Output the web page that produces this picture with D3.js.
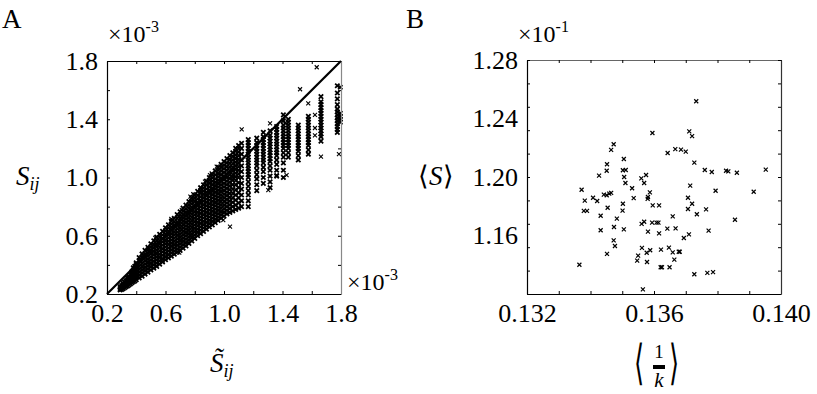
<!DOCTYPE html>
<html>
<head>
<meta charset="utf-8">
<script src="https://cdn.jsdelivr.net/npm/d3@7"></script>
<style>
  body { margin: 0; background: #fff; }
  svg { display: block; }
</style>
</head>
<body>
<svg id="chart" width="817" height="394"></svg>
<script>
// Panel A: S_ij against its estimate, both in units of 1e-3.
// The dense band.
const colX = [
  0.29, 0.30, 0.31, 0.32, 0.33, 0.34, 0.35, 0.36, 0.37, 0.38, 0.39, 0.40,
  0.42, 0.44, 0.46, 0.48, 0.50, 0.52, 0.54, 0.56, 0.58, 0.60, 0.62, 0.64,
  0.66, 0.68, 0.70, 0.72, 0.74, 0.76, 0.78, 0.80, 0.82, 0.84, 0.86, 0.88,
  0.90, 0.92, 0.94, 0.96, 0.98, 1.00, 1.02, 1.04, 1.06, 1.08, 1.10, 1.12,
  1.166, 1.224, 1.269, 1.315, 1.36, 1.406, 1.44, 1.508, 1.577, 1.663, 1.775, 1.795
];
const colY = [
  [0.228, 0.238, 0.25],
  [0.232, 0.245, 0.258],
  [0.236, 0.25, 0.263, 0.272],
  [0.243, 0.256, 0.27, 0.282],
  [0.25, 0.263, 0.277, 0.29],
  [0.255, 0.27, 0.285, 0.298, 0.31],
  [0.262, 0.277, 0.292, 0.307, 0.32],
  [0.27, 0.285, 0.30, 0.315, 0.33],
  [0.277, 0.292, 0.307, 0.322, 0.338, 0.352],
  [0.284, 0.30, 0.316, 0.332, 0.348, 0.365, 0.38],
  [0.29, 0.306, 0.323, 0.34, 0.357, 0.374, 0.39],
  [0.298, 0.315, 0.332, 0.35, 0.368, 0.386, 0.402, 0.414],
  [0.31, 0.33, 0.35, 0.37, 0.39, 0.41, 0.43, 0.45],
  [0.322, 0.344, 0.366, 0.388, 0.41, 0.432, 0.454, 0.475],
  [0.337, 0.36, 0.383, 0.406, 0.429, 0.452, 0.475, 0.50],
  [0.35, 0.372, 0.394, 0.416, 0.438, 0.46, 0.482, 0.504, 0.52],
  [0.365, 0.388, 0.41, 0.433, 0.455, 0.478, 0.50, 0.523, 0.545],
  [0.378, 0.401, 0.424, 0.447, 0.47, 0.493, 0.516, 0.54, 0.565],
  [0.39, 0.412, 0.434, 0.456, 0.478, 0.50, 0.522, 0.544, 0.566, 0.59],
  [0.405, 0.428, 0.451, 0.474, 0.497, 0.52, 0.543, 0.566, 0.589, 0.61],
  [0.42, 0.443, 0.466, 0.489, 0.512, 0.535, 0.558, 0.581, 0.605, 0.63],
  [0.435, 0.457, 0.479, 0.501, 0.523, 0.545, 0.567, 0.589, 0.611, 0.633, 0.655],
  [0.448, 0.471, 0.494, 0.517, 0.54, 0.562, 0.585, 0.608, 0.631, 0.654, 0.675],
  [0.46, 0.482, 0.504, 0.526, 0.548, 0.57, 0.592, 0.614, 0.636, 0.658, 0.68, 0.70],
  [0.473, 0.495, 0.517, 0.539, 0.561, 0.583, 0.605, 0.627, 0.65, 0.673, 0.696, 0.72],
  [0.487, 0.51, 0.533, 0.556, 0.579, 0.602, 0.625, 0.648, 0.671, 0.694, 0.72, 0.745],
  [0.50, 0.522, 0.544, 0.566, 0.588, 0.61, 0.632, 0.654, 0.676, 0.698, 0.72, 0.743, 0.765],
  [0.515, 0.538, 0.561, 0.584, 0.607, 0.63, 0.653, 0.676, 0.699, 0.722, 0.745, 0.768, 0.79],
  [0.53, 0.553, 0.576, 0.599, 0.622, 0.645, 0.668, 0.691, 0.714, 0.737, 0.76, 0.785, 0.81],
  [0.548, 0.57, 0.592, 0.614, 0.636, 0.658, 0.68, 0.702, 0.724, 0.746, 0.768, 0.79, 0.812, 0.835],
  [0.565, 0.588, 0.611, 0.634, 0.657, 0.68, 0.703, 0.726, 0.749, 0.772, 0.795, 0.818, 0.84, 0.86],
  [0.582, 0.605, 0.628, 0.651, 0.674, 0.697, 0.72, 0.743, 0.766, 0.789, 0.812, 0.835, 0.858, 0.88],
  [0.60, 0.623, 0.646, 0.669, 0.692, 0.715, 0.738, 0.761, 0.784, 0.807, 0.83, 0.853, 0.878, 0.905],
  [0.615, 0.638, 0.661, 0.684, 0.707, 0.73, 0.753, 0.776, 0.799, 0.822, 0.845, 0.868, 0.891, 0.91, 0.93],
  [0.63, 0.653, 0.676, 0.699, 0.722, 0.745, 0.768, 0.791, 0.814, 0.837, 0.86, 0.883, 0.906, 0.928, 0.95],
  [0.645, 0.668, 0.691, 0.714, 0.737, 0.76, 0.783, 0.806, 0.829, 0.852, 0.875, 0.898, 0.921, 0.948, 0.975],
  [0.66, 0.683, 0.706, 0.729, 0.752, 0.775, 0.798, 0.821, 0.844, 0.867, 0.89, 0.913, 0.936, 0.96, 0.98, 1.00],
  [0.675, 0.698, 0.721, 0.744, 0.767, 0.79, 0.813, 0.836, 0.859, 0.882, 0.905, 0.928, 0.951, 0.974, 0.997, 1.02],
  [0.69, 0.713, 0.736, 0.759, 0.782, 0.805, 0.828, 0.851, 0.874, 0.897, 0.92, 0.943, 0.966, 0.99, 1.018, 1.045],
  [0.705, 0.728, 0.751, 0.774, 0.797, 0.82, 0.843, 0.866, 0.889, 0.912, 0.935, 0.958, 0.981, 1.004, 1.027, 1.05, 1.07],
  [0.72, 0.743, 0.766, 0.789, 0.812, 0.835, 0.858, 0.881, 0.904, 0.927, 0.95, 0.973, 0.996, 1.02, 1.045, 1.07, 1.09],
  [0.735, 0.76, 0.785, 0.81, 0.835, 0.86, 0.885, 0.91, 0.935, 0.96, 0.985, 1.01, 1.035, 1.06, 1.085, 1.11],
  [0.75, 0.775, 0.80, 0.825, 0.85, 0.875, 0.90, 0.925, 0.95, 0.975, 1.00, 1.025, 1.05, 1.075, 1.10, 1.13],
  [0.76, 0.786, 0.812, 0.838, 0.864, 0.89, 0.916, 0.942, 0.968, 0.994, 1.02, 1.046, 1.072, 1.098, 1.124, 1.15],
  [0.77, 0.80, 0.83, 0.86, 0.89, 0.92, 0.95, 0.98, 1.00, 1.02, 1.045, 1.07, 1.095, 1.12, 1.145, 1.17],
  [0.78, 0.81, 0.845, 0.88, 0.915, 0.95, 0.98, 1.005, 1.03, 1.055, 1.08, 1.105, 1.13, 1.155, 1.18, 1.20],
  [0.79, 0.825, 0.86, 0.895, 0.93, 0.965, 1.00, 1.025, 1.05, 1.075, 1.10, 1.125, 1.15, 1.175, 1.20, 1.22],
  [0.80, 0.84, 0.88, 0.92, 0.96, 1.00, 1.04, 1.08, 1.12, 1.16, 1.20, 1.235],
  [0.80, 0.84, 0.88, 0.91, 0.94, 0.97, 1.00, 1.02, 1.04, 1.06, 1.08, 1.10, 1.12, 1.14, 1.16, 1.18, 1.20, 1.22, 1.24, 1.26],
  [0.91, 0.95, 0.99, 1.02, 1.05, 1.08, 1.10, 1.12, 1.14, 1.16, 1.18, 1.20, 1.22, 1.24, 1.27],
  [0.96, 1.00, 1.04, 1.07, 1.10, 1.12, 1.14, 1.16, 1.18, 1.20, 1.22, 1.24, 1.26, 1.28, 1.31],
  [0.93, 0.97, 1.01, 1.05, 1.08, 1.11, 1.13, 1.15, 1.17, 1.19, 1.21, 1.23, 1.25, 1.27, 1.29, 1.32],
  [1.01, 1.05, 1.09, 1.12, 1.15, 1.17, 1.19, 1.21, 1.23, 1.25, 1.27, 1.29, 1.31, 1.33, 1.35],
  [1.00, 1.05, 1.10, 1.14, 1.17, 1.20, 1.22, 1.24, 1.26, 1.28, 1.30, 1.32, 1.34, 1.36, 1.39, 1.43],
  [1.14, 1.17, 1.20, 1.22, 1.24, 1.26, 1.28, 1.30, 1.32, 1.34, 1.36, 1.38, 1.40],
  [1.12, 1.15, 1.18, 1.20, 1.22, 1.24, 1.26, 1.28, 1.30, 1.32, 1.34, 1.36],
  [1.16, 1.19, 1.22, 1.24, 1.26, 1.28, 1.30, 1.32, 1.34, 1.36, 1.38, 1.40, 1.42],
  [1.25, 1.28, 1.30, 1.32, 1.34, 1.36, 1.38, 1.40, 1.42, 1.44, 1.46, 1.48, 1.50, 1.52, 1.555],
  [1.31, 1.33, 1.35, 1.37, 1.39, 1.41, 1.43, 1.45, 1.47, 1.50, 1.54, 1.58, 1.63],
  [1.38, 1.40, 1.42, 1.44, 1.62]
];
// stray points away from the band
const strayA = [
  [1.121, 1.331], [1.315, 1.372], [1.634, 1.757], [1.52, 1.606], [1.576, 1.509],
  [1.303, 0.914], [1.36, 1.017], [1.428, 1.017], [1.622, 1.29], [1.622, 1.34],
  [1.622, 1.43], [1.663, 1.143], [1.786, 1.161], [0.694, 0.484], [1.417, 1.372],
  [0.77, 0.868], [0.79, 0.885], [0.95, 1.075], [1.075, 1.134], [0.904, 1.017],
  [0.916, 1.029], [0.87, 0.971], [0.711, 0.777], [1.041, 0.662], [0.995, 0.708],
  [0.79, 0.593], [0.58, 0.425], [0.53, 0.585], [0.64, 0.715]
];
const diagA = [0.2, 1.8];
const ticksA = [0.2, 0.4, 0.6, 0.8, 1.0, 1.2, 1.4, 1.6, 1.8];
const labelsA = [0.2, 0.6, 1.0, 1.4, 1.8];

// Panel B: <S> (x1e-1) against <1/k>
const invK = [
  0.13595, 0.13473, 0.13465, 0.13505, 0.13452, 0.13451, 0.13502, 0.13511, 0.13427, 0.13506,
  0.13575, 0.13560, 0.13510, 0.13569, 0.13531, 0.13372, 0.13587, 0.13465, 0.13459, 0.13442,
  0.13451, 0.13408, 0.13536, 0.13581, 0.13580, 0.13382, 0.13421, 0.13502, 0.13596, 0.13616,
  0.13454, 0.13379, 0.13389, 0.13501, 0.13432, 0.13483, 0.13561, 0.13569, 0.13594, 0.13474,
  0.13505, 0.13432, 0.13581, 0.13616, 0.13473, 0.13477, 0.13562, 0.13452, 0.13550, 0.13577,
  0.13588, 0.13547, 0.13578, 0.13365, 0.13565, 0.13733, 0.13711, 0.13720, 0.13643, 0.13667,
  0.13685, 0.13700, 0.13727, 0.13760, 0.13782, 0.13827, 0.13834, 0.13861, 0.13952, 0.13714,
  0.13794, 0.13914, 0.13707, 0.13720, 0.13707, 0.13764, 0.13735, 0.13659, 0.13855, 0.13608,
  0.13614, 0.13642, 0.13668, 0.13772, 0.13710, 0.13694, 0.13622, 0.13647, 0.13659, 0.13678,
  0.13681, 0.13664, 0.13621, 0.13625, 0.13649, 0.13727, 0.13768, 0.13786
];
const meanS = [
  1.2301, 1.2224, 1.2185, 1.2123, 1.2087, 1.2043, 1.2046, 1.2048, 1.2009, 1.2000,
  1.2014, 1.1991, 1.1959, 1.1959, 1.1923, 1.1913, 1.1895, 1.1891, 1.1886, 1.1879,
  1.1875, 1.1858, 1.1856, 1.1863, 1.1850, 1.1838, 1.1836, 1.1817, 1.1806, 1.1806,
  1.1790, 1.1768, 1.1768, 1.1770, 1.1735, 1.1715, 1.1679, 1.1694, 1.1688, 1.1658,
  1.1642, 1.1636, 1.1626, 1.1615, 1.1567, 1.1528, 1.1515, 1.1474, 1.1462, 1.1482,
  1.1499, 1.1428, 1.1419, 1.1400, 1.1232, 1.2518, 1.2312, 1.2280, 1.2164, 1.2191,
  1.2187, 1.2173, 1.2098, 1.2048, 1.2034, 1.2043, 1.2038, 1.2029, 1.2050, 1.1941,
  1.1906, 1.1899, 1.1858, 1.1817, 1.1781, 1.1779, 1.1745, 1.1731, 1.1708, 1.1688,
  1.1688, 1.1647, 1.1649, 1.1633, 1.1608, 1.1583, 1.1503, 1.1517, 1.1485, 1.1489,
  1.1489, 1.1435, 1.1383, 1.1383, 1.1383, 1.1335, 1.1344, 1.1350
];
const ticksBx = [0.132, 0.133, 0.134, 0.135, 0.136, 0.137, 0.138, 0.139, 0.140];
const labelsBx = [0.132, 0.136, 0.140];
const ticksBy = [1.12, 1.136, 1.152, 1.168, 1.184, 1.20, 1.216, 1.232, 1.248, 1.264, 1.28];
const labelsBy = [1.16, 1.20, 1.24, 1.28];

const SERIF = "Liberation Serif, Times New Roman, serif";
const FONT = 26;
const svg = d3.select("#chart").attr("font-family", SERIF);
const cross = (r) => `M${-r},${-r}L${r},${r}M${-r},${r}L${r},${-r}`;

const xA = d3.scaleLinear().domain([0.2, 1.8]).range([107, 341]);
const yA = d3.scaleLinear().domain([0.2, 1.8]).range([294, 61]);
const xB = d3.scaleLinear().domain([0.132, 0.140]).range([527, 781]);
const yB = d3.scaleLinear().domain([1.12, 1.28]).range([294, 60]);

// box with inward ticks on all four sides, MATLAB style
function drawFrame(x, y, xt, yt, edge) {
  const [x0, x1] = x.range();
  const [y0, y1] = y.range();
  const g = svg.append("g").attr("class", "frame");
  const sides = [
    [d3.axisBottom(x).tickValues(xt), `translate(0,${y0})`, edge.bottom],
    [d3.axisTop(x).tickValues(xt), `translate(0,${y1})`, edge.top],
    [d3.axisLeft(y).tickValues(yt), `translate(${x0},0)`, edge.left],
    [d3.axisRight(y).tickValues(yt), `translate(${x1},0)`, edge.right],
  ];
  sides.forEach(([axis, tr, color]) => {
    const a = g.append("g").attr("transform", tr)
      .call(axis.tickSize(-3).tickSizeOuter(0).tickFormat(""));
    a.select(".domain").attr("stroke", color).attr("stroke-width", 1.2);
    a.selectAll(".tick line").attr("stroke", "#000");
    a.selectAll(".tick text").remove();
  });
}

function drawLabels(x, y, xl, yl, fx, fy) {
  const [x0] = x.range();
  const [y0] = y.range();
  svg.append("g").attr("transform", `translate(0,${y0})`)
    .call(d3.axisBottom(x).tickValues(xl).tickSize(0).tickPadding(10).tickFormat(fx))
    .call((a) => a.select(".domain").remove())
    .attr("font-family", SERIF)
    .attr("font-size", FONT);
  svg.append("g").attr("transform", `translate(${x0},0)`)
    .call(d3.axisLeft(y).tickValues(yl).tickSize(0).tickPadding(9).tickFormat(fy))
    .call((a) => a.select(".domain").remove())
    .attr("font-family", SERIF)
    .attr("font-size", FONT);
}

// ---- panel A ----
const bandA = colX.flatMap((x, i) => colY[i].map((y) => [x, y]));

svg.append("g")
  .selectAll("path")
  .data(bandA)
  .join("path")
  .attr("transform", (d) => `translate(${xA(d[0])},${yA(d[1])})`)
  .attr("d", cross(2.2))
  .attr("fill", "none")
  .attr("stroke", "#000")
  .attr("stroke-width", 1.8);

svg.append("g")
  .selectAll("path")
  .data(strayA)
  .join("path")
  .attr("transform", (d) => `translate(${xA(d[0])},${yA(d[1])})`)
  .attr("d", cross(2))
  .attr("fill", "none")
  .attr("stroke", "#000")
  .attr("stroke-width", 1.1);

svg.append("line")
  .attr("x1", xA(diagA[0])).attr("y1", yA(diagA[0]))
  .attr("x2", xA(diagA[1])).attr("y2", yA(diagA[1]))
  .attr("stroke", "#000")
  .attr("stroke-width", 2.2);

drawFrame(xA, yA, ticksA, ticksA, { bottom: "#000", top: "#000", left: "#000", right: "#888" });
drawLabels(xA, yA, labelsA, labelsA, d3.format(".1f"), d3.format(".1f"));

// ---- panel B ----
svg.append("g")
  .selectAll("path")
  .data(invK.map((x, i) => [x, meanS[i]]))
  .join("path")
  .attr("transform", (d) => `translate(${xB(d[0])},${yB(d[1])})`)
  .attr("d", cross(2))
  .attr("fill", "none")
  .attr("stroke", "#000")
  .attr("stroke-width", 1.2);

drawFrame(xB, yB, ticksBx, ticksBy, { bottom: "#000", top: "#666", left: "#000", right: "#333" });
drawLabels(xB, yB, labelsBx, labelsBy, d3.format(".3f"), d3.format(".2f"));

// ---- titles and axis names ----
const txt = (x, y, size) => svg.append("text")
  .attr("x", x).attr("y", y)
  .attr("font-family", SERIF)
  .attr("font-size", size);

txt(2, 28, 27).text("A");
txt(406, 28, 27).text("B");

function sci(x, y, exp) {
  const t = txt(x, y, 24);
  t.append("tspan").text("×10");
  t.append("tspan").attr("dy", -10).attr("font-size", 16).text(exp);
}
sci(108, 42, "-3");
sci(347, 290, "-3");
sci(518, 42, "-1");

const ylA = txt(16, 185, 27).attr("font-style", "italic");
ylA.append("tspan").text("S");
ylA.append("tspan").attr("dy", 5).attr("font-size", 18).text("ij");

const xlA = txt(210, 372, 27).attr("font-style", "italic");
xlA.append("tspan").text("S\u0303");
xlA.append("tspan").attr("dy", 5).attr("font-size", 18).text("ij");

const ylB = txt(418, 185, 27);
ylB.append("tspan").text("⟨");
ylB.append("tspan").attr("font-style", "italic").text("S");
ylB.append("tspan").text("⟩");

// tall angle brackets around the fraction 1/k
svg.append("text").attr("transform", "translate(634,379) scale(1,1.85)")
  .attr("font-family", SERIF).attr("font-size", 26).text("⟨");
svg.append("text").attr("transform", "translate(669,379) scale(1,1.85)")
  .attr("font-family", SERIF).attr("font-size", 26).text("⟩");
txt(659, 358, 19).attr("text-anchor", "middle").text("1");
svg.append("rect").attr("x", 653).attr("y", 365).attr("width", 12).attr("height", 4).attr("fill", "#000");
txt(659, 387, 21).attr("font-style", "italic").attr("text-anchor", "middle").text("k");
</script>
</body>
</html>
